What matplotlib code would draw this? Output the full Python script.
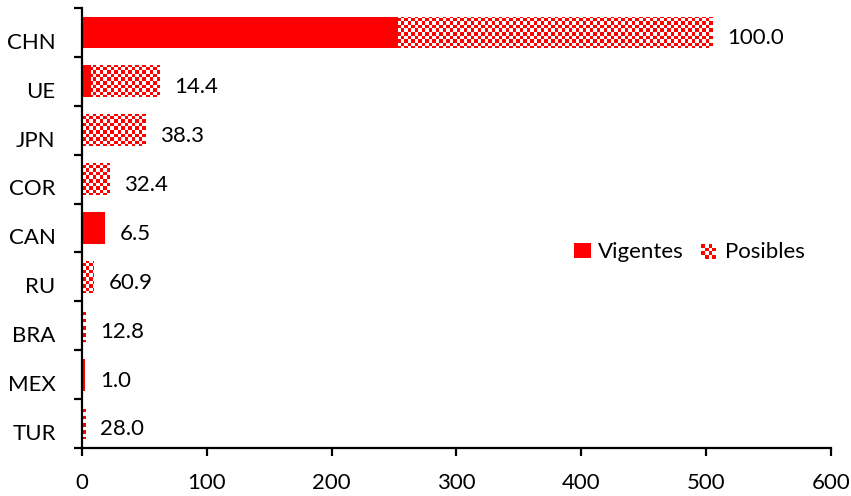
import numpy as np
import matplotlib
matplotlib.use('Agg')
import matplotlib.pyplot as plt
import matplotlib.transforms as mtransforms
from matplotlib.colors import ListedColormap
from matplotlib.patches import Patch, Rectangle

COUNTRIES = ['CHN', 'UE', 'JPN', 'COR', 'CAN', 'RU', 'BRA', 'MEX', 'TUR']
VIGENTES = [253, 7, 0, 0, 18, 0, 0, 2.7, 0]
POSIBLES = [252, 54.5, 50.5, 22, 0, 9.4, 2.7, 0, 2.5]
SHARES = [100.0, 14.4, 38.3, 32.4, 6.5, 60.9, 12.8, 1.0, 28.0]
XTICKS = [0, 100, 200, 300, 400, 500, 600]

RED = '#ff0000'
FONT = 'Lato'
FS = 16


class CheckerHandler:
    """Draws a small red/white checkerboard as legend key."""

    def legend_artist(self, legend, orig_handle, fontsize, handlebox):
        x0, y0 = handlebox.xdescent, handlebox.ydescent
        h = handlebox.height
        n = 4
        cell = h / n
        last = None
        for i in range(n):
            for j in range(n):
                col = RED if (i + j) % 2 else 'white'
                last = Rectangle((x0 + i * cell, y0 + j * cell), cell, cell,
                                 facecolor=col, edgecolor='none',
                                 transform=handlebox.get_transform())
                handlebox.add_artist(last)
        return last


plt.rcParams['font.family'] = [FONT, 'DejaVu Sans']

fig = plt.figure(figsize=(8.51, 4.96), dpi=100)
ax = fig.add_axes([0.0964, 0.0968, 0.88, 0.887])

y = np.arange(len(COUNTRIES))
vig = np.array(VIGENTES, dtype=float)
pos = np.array(POSIBLES, dtype=float)

ax.barh(y, vig, height=0.65, color=RED, edgecolor='none', zorder=2)
pos_bars = ax.barh(y, pos, left=vig, height=0.65, facecolor='none',
                   edgecolor='none', zorder=2)

ax.set_xlim(0, 600)
ax.set_ylim(len(COUNTRIES) - 0.5, -0.5)

# checkerboard fill for "Posibles", clipped to each bar
cols, rows = 214, 126
checker = np.add.outer(np.arange(rows), np.arange(cols)) % 2
cmap = ListedColormap(['white', RED])
for bar in pos_bars:
    if bar.get_width() <= 0:
        continue
    im = ax.imshow(checker, cmap=cmap, extent=(0, 600, len(COUNTRIES) - 0.5, -0.5),
                   aspect='auto', interpolation='nearest', zorder=2)
    im.set_clip_path(bar)

ax.set_xlim(0, 600)
ax.set_ylim(len(COUNTRIES) - 0.5, -0.5)

for yi, total, share in zip(y, vig + pos, SHARES):
    ax.text(total + 12, yi + 0.12, f'{share:.1f}', ha='left', va='center',
            fontsize=FS, color='black', family=FONT)

# axes styling
for s in ['top', 'right']:
    ax.spines[s].set_visible(False)
for s in ['left', 'bottom']:
    ax.spines[s].set_linewidth(1.6)
    ax.spines[s].set_color('black')

ax.set_xticks(XTICKS)
ax.set_xticklabels([str(t) for t in XTICKS])
ax.tick_params(axis='x', direction='out', length=6, width=1.6, pad=12,
               labelsize=FS)

ax.set_yticks(y)
ax.set_yticklabels(COUNTRIES)
ax.set_yticks(np.arange(-0.5, len(COUNTRIES)), minor=True)
ax.tick_params(axis='y', which='major', length=0, pad=19, labelsize=FS)
ax.tick_params(axis='y', which='minor', direction='out', length=6, width=1.6)

shift = mtransforms.ScaledTranslation(0, -6 / 72, fig.dpi_scale_trans)
for lab in ax.get_yticklabels():
    lab.set_transform(lab.get_transform() + shift)

handles = [Patch(facecolor=RED, edgecolor='none'), Patch(facecolor='white')]
ax.legend(handles, ['Vigentes', 'Posibles'], ncol=2, frameon=False,
          loc='center left', bbox_to_anchor=(0.657, 0.445),
          borderpad=0, borderaxespad=0, handlelength=0.77, handleheight=0.64,
          handletextpad=0.3, columnspacing=0.8, fontsize=FS,
          handler_map={handles[1]: CheckerHandler()})

fig.savefig('out.png', dpi=100, facecolor='white')
